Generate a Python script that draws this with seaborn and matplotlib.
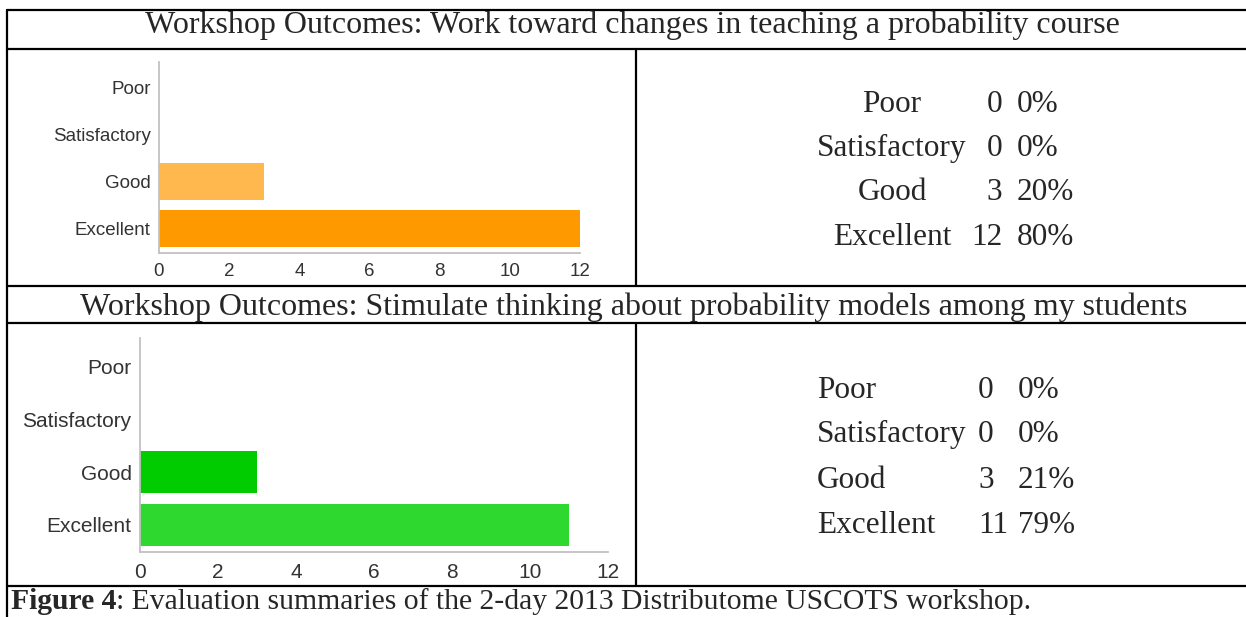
from matplotlib import pyplot as plt
from matplotlib.lines import Line2D
import seaborn as sns
import pandas as pd

# survey answers
categories = ["Poor", "Satisfactory", "Good", "Excellent"]
counts_change = [0, 0, 3, 12]
pct_change = [0, 0, 20, 80]
counts_think = [0, 0, 3, 11]
pct_think = [0, 0, 21, 79]

title_change = "Workshop Outcomes: Work toward changes in teaching a probability course"
title_think = "Workshop Outcomes: Stimulate thinking about probability models among my students"
caption_bold = "Figure 4"
caption_rest = ": Evaluation summaries of the 2-day 2013 Distributome USCOTS workshop."

colors_change = ["#ffb84d", "#ffb84d", "#ffb84d", "#ff9900"]
colors_think = ["#00cc00", "#00cc00", "#00cc00", "#2ed82e"]

W, H = 1246, 617
sns.set_style("white")
plt.rcParams["font.family"] = ["Liberation Sans", "DejaVu Sans"]

fig = plt.figure(figsize=(W / 100, H / 100), dpi=100)


def px(x, y):
    return x / W, 1 - y / H


def hline(y, x0=7, x1=W):
    a, b = px(x0, y), px(x1, y)
    fig.add_artist(Line2D([a[0], b[0]], [a[1], b[1]], color="black", lw=1.6))


def vline(x, y0, y1):
    a, b = px(x, y0), px(x, y1)
    fig.add_artist(Line2D([a[0], b[0]], [a[1], b[1]], color="black", lw=1.6))


def bar_chart(rect, counts, colors, fs, xpad):
    ax = fig.add_axes(rect)
    df = pd.DataFrame({"rating": categories, "count": counts})
    sns.barplot(data=df, x="count", y="rating", hue="rating", palette=colors,
                orient="h", width=0.8, legend=False, ax=ax, saturation=1,
                edgecolor="none")
    ax.set_xlim(0, 12)
    ax.set_ylim(3.52, -0.55)
    ax.set_xticks(range(0, 13, 2))
    ax.set_xlabel("")
    ax.set_ylabel("")
    sns.despine(ax=ax)
    for s in ["left", "bottom"]:
        ax.spines[s].set_color("#c2c2c2")
        ax.spines[s].set_linewidth(1.3)
    ax.tick_params(axis="both", length=3, width=1, color="#c2c2c2",
                   labelsize=fs, labelcolor="#333333", pad=3)
    ax.tick_params(axis="x", pad=xpad)
    return ax


# chart boxes (pixel coords of the plotting area)
l1, r1, t1, b1 = 159, 580, 62, 253
bar_chart([l1 / W, 1 - b1 / H, (r1 - l1) / W, (b1 - t1) / H], counts_change, colors_change, 13.5, 4)
l2, r2, t2, b2 = 140, 608, 338, 552
bar_chart([l2 / W, 1 - b2 / H, (r2 - l2) / W, (b2 - t2) / H], counts_think, colors_think, 15, 5)

# table grid
for y in [10, 49, 286, 323, 586]:
    hline(y)
vline(7, 10, H)
vline(636, 49, 286)
vline(636, 323, 586)

serif = ["Liberation Serif", "DejaVu Serif"]
fig.text(*px(632, 33), title_change, ha="center", va="baseline", fontsize=23, family=serif)
fig.text(*px(634, 315), title_think, ha="center", va="baseline", fontsize=23, family=serif)

# summary cells
for i, (c, n, p) in enumerate(zip(categories, counts_change, pct_change)):
    y = [112, 156, 200, 245][i]
    fig.text(*px(892, y), c, ha="center", va="baseline", fontsize=22.5, family=serif)
    fig.text(*px(1002, y), str(n), ha="right", va="baseline", fontsize=22.5, family=serif)
    fig.text(*px(1017, y), f"{p}%", ha="left", va="baseline", fontsize=22.5, family=serif)

for i, (c, n, p) in enumerate(zip(categories, counts_think, pct_think)):
    y = [398, 442, 488, 533][i]
    fig.text(*px(817, y), c, ha="left", va="baseline", fontsize=22.5, family=serif)
    fig.text(*px(978, y), str(n), ha="left", va="baseline", fontsize=22.5, family=serif)
    fig.text(*px(1018, y), f"{p}%", ha="left", va="baseline", fontsize=22.5, family=serif)

# caption: bold part then the rest right after it
cb = fig.text(*px(11, 609), caption_bold, ha="left", va="baseline", fontsize=21.3,
              family=serif, fontweight="bold")
fig.canvas.draw()
ext = cb.get_window_extent()
fig.text(ext.x1 / W, 1 - 609 / H, caption_rest, ha="left", va="baseline",
         fontsize=21.3, family=serif)

fig.savefig("out.png", dpi=100)
